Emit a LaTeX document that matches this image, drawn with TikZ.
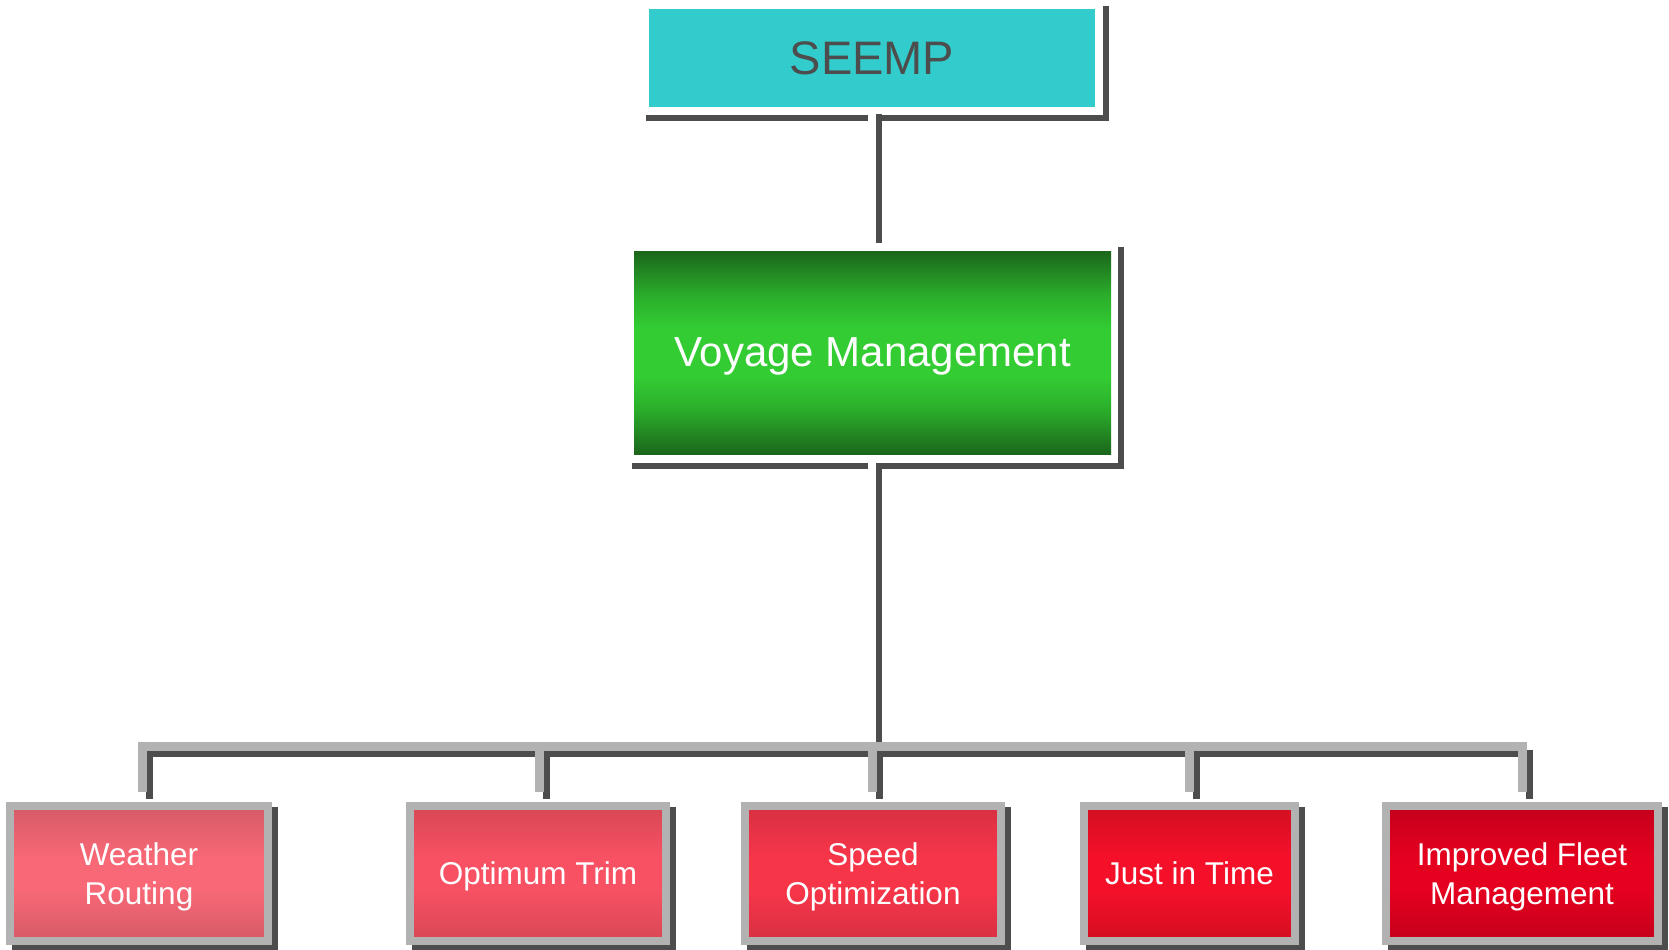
\documentclass[tikz,border=0pt]{standalone}
\usepackage{fontspec}
\setmainfont{Liberation Sans}
\usetikzlibrary{calc}

\pgfdeclarelayer{back}
\pgfsetlayers{back,main}

% palette
\definecolor{seempfill}{HTML}{33CCCC}
\definecolor{seemptext}{HTML}{4D4D4D}
\definecolor{shadowgray}{HTML}{4D4D4D}
\definecolor{framegray}{HTML}{B2B2B2}
\definecolor{gdark}{HTML}{1B661B}
\definecolor{gmid}{HTML}{2BAE2B}
\definecolor{glight}{HTML}{33CC33}
\definecolor{rAe}{HTML}{D65A67}\definecolor{rAm}{HTML}{F86876}
\definecolor{rBe}{HTML}{D84755}\definecolor{rBm}{HTML}{F75163}
\definecolor{rCe}{HTML}{D73042}\definecolor{rCm}{HTML}{F73549}
\definecolor{rDe}{HTML}{D20F21}\definecolor{rDm}{HTML}{F5102A}
\definecolor{rEe}{HTML}{C4001B}\definecolor{rEm}{HTML}{E5001F}

% vertical gradients: dark at top and bottom, light in the middle
\newcommand\taskshading[3]{%
  \pgfdeclareverticalshading{#1}{100bp}{color(0bp)=(#2); color(25bp)=(#2);
    color(44bp)=(#3); color(56bp)=(#3); color(75bp)=(#2); color(100bp)=(#2)}}
\taskshading{redA}{rAe}{rAm}
\taskshading{redB}{rBe}{rBm}
\taskshading{redC}{rCe}{rCm}
\taskshading{redD}{rDe}{rDm}
\taskshading{redE}{rEe}{rEm}
\pgfdeclareverticalshading{greenshade}{100bp}{color(0bp)=(gdark); color(25bp)=(gdark);
  color(36bp)=(gmid); color(44bp)=(glight); color(56bp)=(glight); color(64bp)=(gmid);
  color(75bp)=(gdark); color(100bp)=(gdark)}

\tikzset{
  seempbox/.style={fill=seempfill, text=seemptext, minimum width=223pt, minimum height=49pt,
    inner sep=0pt, outer sep=0pt, font=\fontsize{23.5pt}{28pt}\selectfont},
  voyagebox/.style={shading=greenshade, text=white, minimum width=238.5pt, minimum height=101.5pt,
    inner sep=0pt, outer sep=0pt, text depth=0pt, font=\fontsize{21pt}{25pt}\selectfont},
  taskbox/.style={draw=framegray, line width=4pt, text=white, align=center, text depth=0pt,
    minimum height=67.5pt, inner sep=0pt, font=\fontsize{15.75pt}{19.5pt}\selectfont},
  bevel/.style={draw=shadowgray, line width=3.25pt},
  halo/.style={draw=white, line width=4pt},
  trunk/.style={draw=shadowgray, line width=3pt},
  busline/.style={draw=framegray, line width=4.5pt},
  busshadow/.style={draw=shadowgray, line width=3.5pt},
  boxshadow/.style={fill=shadowgray}
}

\begin{document}
\begin{tikzpicture}[x=0.5pt, y=-0.5pt]
\useasboundingbox (0,0) rectangle (1669,949);

% boxes
\node[seempbox] (seemp) at (872,58) {SEEMP};
\node[voyagebox] (voyage) at (872.5,352.5) {Voyage Management};
\node[taskbox, shading=redA, minimum width=129pt] (wr) at (139,873.5) {Weather\\Routing};
\node[taskbox, shading=redB, minimum width=128pt] (ot) at (538,873.5) {Optimum Trim};
\node[taskbox, shading=redC, minimum width=128pt] (so) at (873,873.5) {Speed\\Optimization};
\node[taskbox, shading=redD, minimum width=105.5pt] (jit) at (1189.5,873.5) {Just in Time};
\node[taskbox, shading=redE, minimum width=136pt] (ifm) at (1522,873.5) {Improved Fleet\\Management};

% background and drop shadows of the task boxes
\begin{pgfonlayer}{back}
  \fill[white] (0,0) rectangle (1669,949);
  \foreach \n in {wr,ot,so,jit,ifm}
    \fill[boxshadow] ($(\n.north west)+(5.5,5)$) rectangle ($(\n.south east)+(5.5,5)$);
\end{pgfonlayer}

% bevel edges under the two upper boxes
\draw[bevel] ($(seemp.south west)+(-3,10.75)$) -| ($(seemp.north east)+(10.75,-3)$);
\draw[bevel, line width=3pt] ($(voyage.south west)+(-2,12)$) -| ($(voyage.north east)+(9.5,-4)$);

% bus junction
\coordinate (bus) at (872,746.5);
\coordinate (busS) at (879,753.5);

% SEEMP -> Voyage Management
\draw[halo] ($(seemp.south)+(0,5)$) -- ($(voyage.north)+(-0.5,-8)$);
\draw[trunk] ($(seemp.south)+(7,7)$) -- ($(voyage.north)+(6.5,-8)$);

% Voyage Management -> bus
\draw[halo] ($(voyage.south)+(-0.5,8)$) -- (bus);
\draw[trunk] ($(voyage.south)+(6.5,9)$) -- ($(bus)+(7,10.5)$);

% bus shadows
\draw[busshadow] ($(wr.north)+(10,-3)$) |- (busS);
\draw[busshadow] ($(ot.north)+(8,-3)$) |- (busS);
\draw[busshadow] ($(so.north)+(6,-3)$) |- (busS);
\draw[busshadow] ($(jit.north)+(7,-3)$) |- (busS);
\draw[busshadow] ($(ifm.north)+(7,-3)$) |- (busS);

% bus lines
\draw[busline] ($(wr.north)+(3,-10)$) |- (bus);
\draw[busline] ($(ot.north)+(1,-10)$) |- (bus);
\draw[busline] ($(so.north)+(-1,-10)$) |- (bus);
\draw[busline] ($(jit.north)+(0,-10)$) |- (bus);
\draw[busline] ($(ifm.north)+(0,-10)$) |- (bus);
\end{tikzpicture}
\end{document}
